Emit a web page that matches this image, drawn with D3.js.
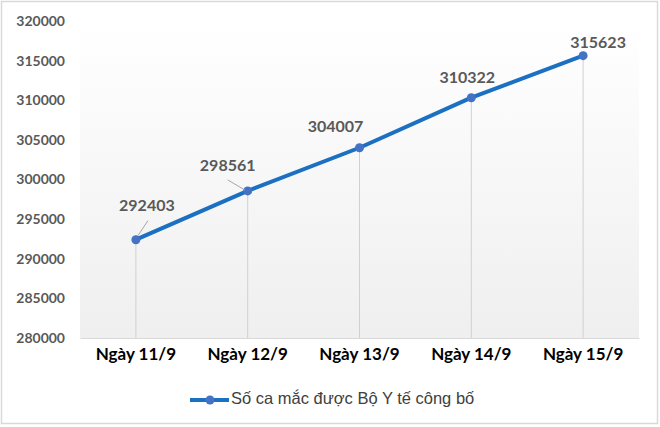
<!DOCTYPE html>
<html><head><meta charset="utf-8">
<script src="https://cdn.jsdelivr.net/npm/d3@7"></script>
<style>body{margin:0;background:#fff}svg{display:block}</style>
</head><body>
<svg id="c" width="660" height="427"></svg>
<script>
const categories = ["Ngày 11/9","Ngày 12/9","Ngày 13/9","Ngày 14/9","Ngày 15/9"];
const values = [292403, 298561, 304007, 310322, 315623];
const yTicks = [280000,285000,290000,295000,300000,305000,310000,315000,320000];
const seriesName = "Số ca mắc được Bộ Y tế công bố";
// label offsets (dx, dy) relative to point
const labelOffsets = [[11,-33],[-20,-24],[-24,-20],[-4,-19],[15,-12]];
// leader lines (from label end to point), null if none
const leaders = [[12,-19,2,-4],[-20,-11,-3,-1],null,null,null];

const svg = d3.select("#c");
const W=660,H=427;
svg.append("rect").attr("x",1.5).attr("y",1.5).attr("width",W-4).attr("height",H-5)
  .attr("fill","#fff").attr("stroke","#d9d9d9").attr("stroke-width",1.5);

const defs = svg.append("defs");
const g = defs.append("linearGradient").attr("id","bg").attr("x1",0).attr("y1",0).attr("x2",0).attr("y2",1);
g.append("stop").attr("offset","0%").attr("stop-color","#ffffff");
g.append("stop").attr("offset","100%").attr("stop-color","#efefef");

const x = d3.scaleBand().domain(categories).range([80,639]);
const y = d3.scaleLinear().domain([280000,320000]).range([338,21]);
const cx = d => x(d)+x.bandwidth()/2;

svg.append("rect").attr("x",80).attr("y",21).attr("width",559).attr("height",317).attr("fill","url(#bg)");

// y axis tick labels
const yAxis = d3.axisLeft(y).tickValues(yTicks).tickSize(0).tickPadding(0).tickFormat(d3.format("d"));
const ya = svg.append("g").attr("transform","translate(65,0)").call(yAxis);
ya.select(".domain").remove();
ya.selectAll("text").attr("font-family","Lato, 'Open Sans', sans-serif").attr("font-weight","bold")
  .attr("font-size",14).attr("fill","#595959");

// x axis
const xAxis = d3.axisBottom(x).tickSize(0).tickPadding(0);
const xa = svg.append("g").attr("transform","translate(0,338)").call(xAxis);
xa.select(".domain").attr("stroke","#d9d9d9").attr("stroke-width",1.2);
xa.selectAll("text").attr("dy","1.3em").attr("font-family","Lato, 'Open Sans', sans-serif").attr("font-weight","bold")
  .attr("font-size",17).attr("fill","#000");

// drop lines
svg.append("g").selectAll("line").data(values).join("line")
  .attr("x1",(d,i)=>cx(categories[i])).attr("x2",(d,i)=>cx(categories[i]))
  .attr("y1",d=>y(d)).attr("y2",y(280000)).attr("stroke","#d0d0d0").attr("stroke-width",1);

// line
const line = d3.line().x((d,i)=>cx(categories[i])).y(d=>y(d));
svg.append("path").datum(values).attr("d",line).attr("fill","none")
  .attr("stroke","#1b70c2").attr("stroke-width",4).attr("stroke-linejoin","round");

svg.append("g").selectAll("circle").data(values).join("circle")
  .attr("cx",(d,i)=>cx(categories[i])).attr("cy",d=>y(d)).attr("r",4.5).attr("fill","#4472c4");

// leader lines
const ld = values.map((d,i)=>({i,d,l:leaders[i]})).filter(o=>o.l);
svg.append("g").selectAll("line").data(ld).join("line")
  .attr("x1",o=>cx(categories[o.i])+o.l[0]).attr("y1",o=>y(o.d)+o.l[1])
  .attr("x2",o=>cx(categories[o.i])+o.l[2]).attr("y2",o=>y(o.d)+o.l[3])
  .attr("stroke","#a6a6a6").attr("stroke-width",1);

// labels
svg.append("g").selectAll("text").data(values).join("text")
  .attr("x",(d,i)=>cx(categories[i])+labelOffsets[i][0])
  .attr("y",(d,i)=>y(d)+labelOffsets[i][1])
  .attr("text-anchor","middle").attr("dominant-baseline","middle")
  .attr("font-family","Lato, 'Open Sans', sans-serif").attr("font-weight","bold")
  .attr("font-size",16).attr("fill","#595959").text(d=>d);

// legend
const lg = svg.append("g").attr("transform","translate(190,400)");
lg.append("line").attr("x1",0).attr("x2",39).attr("y1",0).attr("y2",0).attr("stroke","#1b70c2").attr("stroke-width",4);
lg.append("circle").attr("cx",20).attr("cy",0).attr("r",4.5).attr("fill","#4472c4");
lg.append("text").attr("x",41).attr("y",0).attr("dominant-baseline","middle")
  .attr("font-family","'Liberation Sans', Arial, sans-serif").attr("font-size",16.5).attr("fill","#404040").text(seriesName);
</script>
</body></html>
